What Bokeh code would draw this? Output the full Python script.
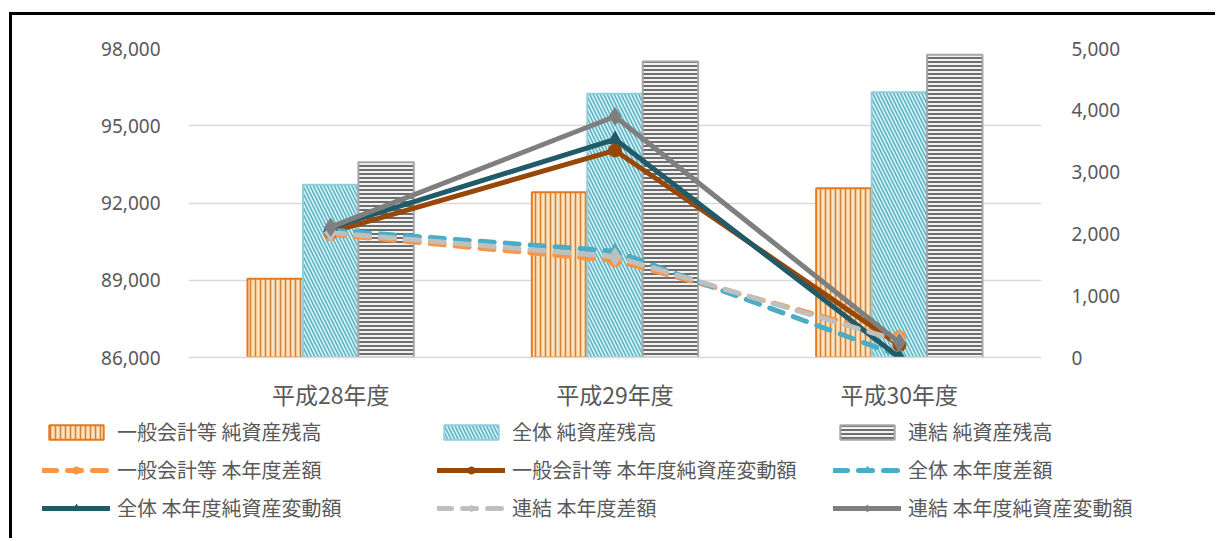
from bokeh.plotting import figure
from bokeh.models import (FactorRange, Range1d, LinearAxis, FixedTicker, NumeralTickFormatter,
                          Legend, LegendItem)
from bokeh.transform import dodge
from bokeh.embed import file_html
from bokeh.resources import INLINE

# ---------------- data ----------------
categories = ["平成28年度", "平成29年度", "平成30年度"]

ippan_zan = [89060, 92420, 92570]      # 一般会計等 純資産残高
zentai_zan = [92710, 96240, 96300]     # 全体 純資産残高
renketsu_zan = [93580, 97500, 97760]   # 連結 純資産残高

ippan_sagaku = [1990, 1570, 330]       # 一般会計等 本年度差額
ippan_hendo = [2030, 3350, 200]        # 一般会計等 本年度純資産変動額
zentai_sagaku = [2060, 1720, 30]       # 全体 本年度差額
zentai_hendo = [2100, 3530, 0]         # 全体 本年度純資産変動額
renketsu_sagaku = [2020, 1630, 270]    # 連結 本年度差額
renketsu_hendo = [2110, 3900, 240]     # 連結 本年度純資産変動額

left_ticks = [86000, 89000, 92000, 95000, 98000]
right_ticks = [0, 1000, 2000, 3000, 4000, 5000]

TEXT = "#595959"
JP = "Noto Sans CJK JP"

p = figure(x_range=FactorRange(*categories), y_range=Range1d(86000, 98000),
           width=1206, height=400, output_backend="svg", toolbar_location=None,
           min_border_left=176, min_border_right=177, min_border_top=33, min_border_bottom=58)
p.margin = (12, 0, 0, 9)
p.styles = {"border-left": "3px solid black", "border-top": "3px solid black"}
p.outline_line_color = None
p.background_fill_color = "white"
p.border_fill_color = "white"

p.extra_y_ranges = {"right": Range1d(0, 5000)}

data = dict(x=categories, ippan_zan=ippan_zan, zentai_zan=zentai_zan, renketsu_zan=renketsu_zan,
            ippan_sagaku=ippan_sagaku, ippan_hendo=ippan_hendo,
            zentai_sagaku=zentai_sagaku, zentai_hendo=zentai_hendo,
            renketsu_sagaku=renketsu_sagaku, renketsu_hendo=renketsu_hendo)

bar_styles = [
    ("一般会計等 純資産残高", "ippan_zan", -0.195,
     dict(fill_color="#fce4c2", line_color="#e8781e", line_width=2,
          hatch_pattern="|", hatch_color="#d08236", hatch_scale=5, hatch_weight=1.6)),
    ("全体 純資産残高", "zentai_zan", 0.0,
     dict(fill_color="#d4f5f9", line_color="#92cddc", line_width=2,
          hatch_pattern="\\", hatch_color="#62b2c2", hatch_scale=7, hatch_weight=1.6)),
    ("連結 純資産残高", "renketsu_zan", 0.195,
     dict(fill_color="#f2f2f2", line_color="#a6a6a6", line_width=2,
          hatch_pattern="-", hatch_color="#5e5e5e", hatch_scale=4, hatch_weight=1.8)),
]
W = 0.195
for label, col, off, st in bar_styles:
    p.vbar(x=dodge("x", off, range=p.x_range), top=col, bottom=86000, width=W, source=data, **st)

DASH = "14 11"
LW = 5
series = [
    ("一般会計等 本年度差額", "ippan_sagaku", "#f79646", DASH, "circle", 13),
    ("一般会計等 本年度純資産変動額", "ippan_hendo", "#974706", "solid", "circle", 13),
    ("全体 本年度差額", "zentai_sagaku", "#4bacc6", DASH, "triangle", 14),
    ("全体 本年度純資産変動額", "zentai_hendo", "#215a69", "solid", "triangle", 14),
    ("連結 本年度差額", "renketsu_sagaku", "#bfbfbf", DASH, "diamond", 18),
    ("連結 本年度純資産変動額", "renketsu_hendo", "#7f7f7f", "solid", "diamond", 18),
]
for label, col, color, dash, marker, size in series:
    p.line(x="x", y=col, source=data, y_range_name="right", line_color=color,
           line_width=LW, line_dash=dash, line_cap="round", line_join="round")
    p.scatter(x="x", y=col, source=data, y_range_name="right", marker=marker, size=size,
              fill_color=color, line_color=color)

# axes
p.yaxis.ticker = FixedTicker(ticks=left_ticks)
p.yaxis.formatter = NumeralTickFormatter(format="0,0")
ra = LinearAxis(y_range_name="right", ticker=FixedTicker(ticks=right_ticks),
                formatter=NumeralTickFormatter(format="0,0"))
p.add_layout(ra, "right")
for ax in [p.yaxis[0], ra]:
    ax.axis_line_color = None
    ax.major_tick_line_color = None
    ax.minor_tick_line_color = None
    ax.major_label_text_font = "Noto Sans"
    ax.major_label_text_font_size = "19px"
    ax.major_label_text_color = TEXT
p.yaxis[0].major_label_standoff = 22
ra.major_label_standoff = 24

p.xaxis.axis_line_color = "#d9d9d9"
p.xaxis.axis_line_width = 1.5
p.xaxis.major_tick_line_color = None
p.xaxis.minor_tick_line_color = None
p.xaxis.major_label_text_font = JP
p.xaxis.major_label_text_font_size = "23px"
p.xaxis.major_label_text_color = TEXT
p.xaxis.major_label_standoff = 13

p.xgrid.grid_line_color = None
p.ygrid.grid_line_color = "#d9d9d9"
p.ygrid.grid_line_width = 1.5

# ---------------- legend panel (separate root, not frame-aligned) ----------------
q = figure(width=1206, height=126, x_range=Range1d(0, 1), y_range=Range1d(0, 1),
           x_axis_type=None, y_axis_type=None, output_backend="svg", toolbar_location=None,
           min_border_left=0, min_border_right=0, min_border_top=0, min_border_bottom=0)
q.margin = (0, 0, 0, 9)
q.styles = {"border-left": "3px solid black"}
q.outline_line_color = None
q.xgrid.grid_line_color = None
q.ygrid.grid_line_color = None
q.background_fill_color = "white"
q.border_fill_color = "white"

leg_r = {}
for label, col, off, st in bar_styles:
    leg_r[label] = [q.vbar(x=[5], top=[5], bottom=4, width=0.1, **st)]
for label, col, color, dash, marker, size in series:
    lr = q.line(x=[5, 6], y=[5, 5], line_color=color, line_width=LW, line_dash=dash, line_cap="round")
    mr = q.scatter(x=[5], y=[5], marker=marker, size=size, fill_color=color, line_color=color)
    leg_r[label] = [lr, mr]

legend_cols = [
    ["一般会計等 純資産残高", "一般会計等 本年度差額", "全体 本年度純資産変動額"],
    ["全体 純資産残高", "一般会計等 本年度純資産変動額", "連結 本年度差額"],
    ["連結 純資産残高", "全体 本年度差額", "連結 本年度純資産変動額"],
]
for cx, labels in zip([30, 425, 821], legend_cols):
    leg = Legend(items=[LegendItem(label=l, renderers=leg_r[l]) for l in labels],
                 location=(cx, 16), orientation="vertical",
                 padding=0, margin=0, spacing=9, border_line_color=None,
                 background_fill_alpha=0, glyph_width=68, glyph_height=18,
                 label_height=20, label_standoff=7, label_text_font=JP,
                 label_text_font_size="20px", label_text_color=TEXT)
    q.add_layout(leg)

open("out.html", "w").write(file_html([p, q], INLINE))
